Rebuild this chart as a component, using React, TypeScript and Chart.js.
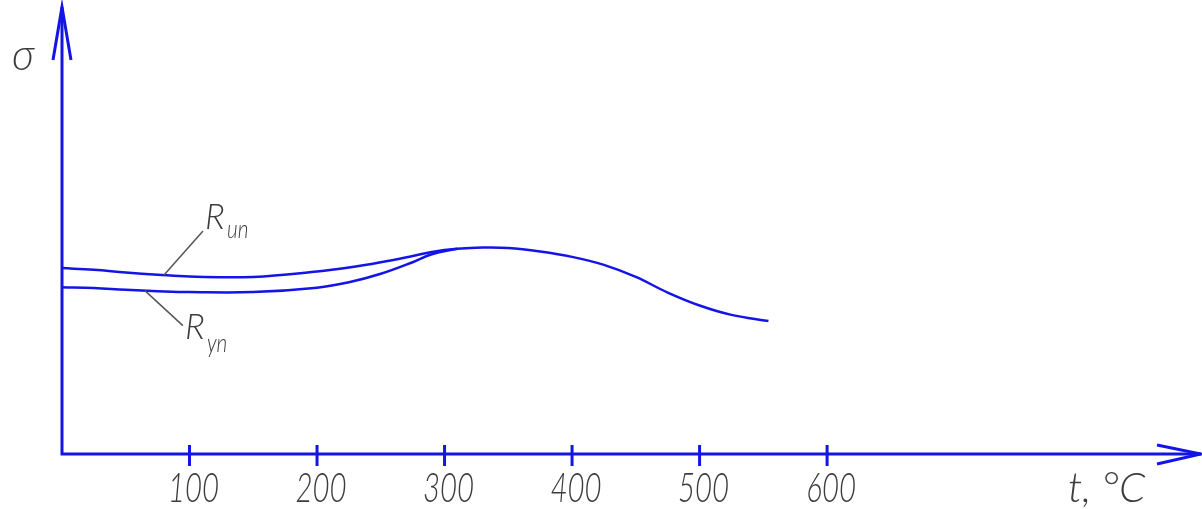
import React, { useEffect, useRef } from "react";
import { Chart, registerables } from "chart.js";

Chart.register(...registerables);

// Temperature, °C
const tUpper = [0, 25, 50, 75, 100, 150, 200, 225, 250, 275, 290, 310, 330, 350, 375, 400, 425, 450, 475, 500, 525, 554];
// R_un (upper curve), σ in relative units
const rUn = [41.7, 41.3, 40.7, 40.2, 39.8, 39.7, 40.9, 41.8, 43.0, 44.4, 45.3, 46.0, 46.3, 46.2, 45.4, 44.2, 42.4, 39.7, 36.2, 33.3, 31.2, 29.8];
// R_yn (lower curve)
const tLower = [0, 25, 50, 75, 100, 150, 200, 225, 250, 275, 290, 310];
const rYn = [37.4, 37.2, 36.8, 36.5, 36.3, 36.3, 37.3, 38.5, 40.4, 43.0, 44.8, 46.0];

const xTicks = [100, 200, 300, 400, 500, 600];
const xTickLabels = ["100", "200", "300", "400", "500", "600"];
const xAxisTitle = "t, °C";
const yAxisTitle = "σ";
const labelUpper = { main: "R", sub: "un", at: 80 };
const labelLower = { main: "R", sub: "yn", at: 65 };

const X_MAX = 894;
const Y_MAX = 100;

const BLUE = "#1414e6";
const TEXT = "#3c3c3c";

function drawText(
  ctx: CanvasRenderingContext2D,
  str: string,
  x: number,
  y: number,
  size: number,
  sx: number,
  align: CanvasTextAlign = "left"
) {
  ctx.save();
  ctx.translate(x, y);
  ctx.scale(sx, 1);
  ctx.font = `italic 300 ${size}px Lato, "DejaVu Sans", sans-serif`;
  ctx.fillStyle = TEXT;
  ctx.textAlign = align;
  ctx.textBaseline = "alphabetic";
  ctx.fillText(str, 0, 0);
  ctx.restore();
}

function valueAt(ts: number[], vs: number[], t: number) {
  for (let i = 0; i < ts.length - 1; i++) {
    if (t >= ts[i] && t <= ts[i + 1]) {
      const f = (t - ts[i]) / (ts[i + 1] - ts[i]);
      return vs[i] + f * (vs[i + 1] - vs[i]);
    }
  }
  return vs[vs.length - 1];
}

const axesPlugin = {
  id: "drawingAxes",
  afterDraw(chart: any) {
    const ctx: CanvasRenderingContext2D = chart.ctx;
    const xs = chart.scales.x;
    const ys = chart.scales.y;
    const x0 = xs.getPixelForValue(0);
    const y0 = ys.getPixelForValue(0);
    const yTop = ys.getPixelForValue(Y_MAX) - 1;
    const xEnd = xs.getPixelForValue(X_MAX) - 1;

    ctx.save();
    ctx.strokeStyle = BLUE;
    ctx.lineWidth = 3;
    ctx.lineCap = "butt";
    ctx.lineJoin = "miter";
    ctx.beginPath();
    ctx.moveTo(x0, yTop);
    ctx.lineTo(x0, y0);
    ctx.lineTo(xEnd, y0);
    ctx.stroke();
    ctx.beginPath();
    ctx.moveTo(x0 - 9, yTop + 53);
    ctx.lineTo(x0, yTop);
    ctx.lineTo(x0 + 9, yTop + 53);
    ctx.stroke();
    ctx.beginPath();
    ctx.moveTo(xEnd - 44, y0 - 9);
    ctx.lineTo(xEnd, y0);
    ctx.lineTo(xEnd - 44, y0 + 10);
    ctx.stroke();
    xTicks.forEach((t) => {
      const px = xs.getPixelForValue(t);
      ctx.beginPath();
      ctx.moveTo(px, y0 - 9);
      ctx.lineTo(px, y0 + 12);
      ctx.stroke();
    });
    ctx.restore();

    xTicks.forEach((t, i) => {
      drawText(ctx, xTickLabels[i], xs.getPixelForValue(t) + 4, y0 + 48, 42, 0.7, "center");
    });
    drawText(ctx, xAxisTitle, 1068, y0 + 48, 42, 1.0, "left");
    drawText(ctx, yAxisTitle, 12, 70, 44, 0.95, "left");

    ctx.save();
    ctx.strokeStyle = "#555";
    ctx.lineWidth = 1.5;
    const ux = xs.getPixelForValue(labelUpper.at);
    const uy = ys.getPixelForValue(valueAt(tUpper, rUn, labelUpper.at));
    ctx.beginPath();
    ctx.moveTo(ux, uy);
    ctx.lineTo(ux + 39, uy - 44);
    ctx.stroke();
    const lx = xs.getPixelForValue(labelLower.at);
    const ly = ys.getPixelForValue(valueAt(tLower, rYn, labelLower.at));
    ctx.beginPath();
    ctx.moveTo(lx, ly);
    ctx.lineTo(lx + 38, ly + 35);
    ctx.stroke();
    ctx.restore();

    drawText(ctx, labelUpper.main, ux + 41, uy - 46, 35, 1.0, "left");
    drawText(ctx, labelUpper.sub, ux + 63, uy - 37, 26, 0.8, "left");
    drawText(ctx, labelLower.main, lx + 40, ly + 48, 35, 1.0, "left");
    drawText(ctx, labelLower.sub, lx + 62, ly + 61, 26, 0.8, "left");
  },
};

export default function App() {
  const ref = useRef<HTMLCanvasElement | null>(null);
  useEffect(() => {
    if (!ref.current) return;
    const chart = new Chart(ref.current, {
      type: "line",
      data: {
        datasets: [
          {
            label: "R_un",
            data: tUpper.map((t, i) => ({ x: t, y: rUn[i] })),
            borderColor: BLUE,
            borderWidth: 2.5,
            pointRadius: 0,
            fill: false,
            tension: 0.4,
          },
          {
            label: "R_yn",
            data: tLower.map((t, i) => ({ x: t, y: rYn[i] })),
            borderColor: BLUE,
            borderWidth: 2.5,
            pointRadius: 0,
            fill: false,
            tension: 0.4,
          },
        ],
      },
      options: {
        animation: false,
        responsive: false,
        maintainAspectRatio: false,
        layout: { padding: { left: 62, right: 0, top: 8, bottom: 55 } },
        plugins: { legend: { display: false }, tooltip: { enabled: false } },
        scales: {
          x: { type: "linear", min: 0, max: X_MAX, display: false },
          y: { type: "linear", min: 0, max: Y_MAX, display: false },
        },
      },
      plugins: [axesPlugin],
    });
    return () => chart.destroy();
  }, []);
  return (
    <div style={{ position: "absolute", left: 0, top: 0, width: 1202, height: 509, background: "#fff" }}>
      <canvas ref={ref} width={1202} height={509} style={{ display: "block" }} />
    </div>
  );
}
